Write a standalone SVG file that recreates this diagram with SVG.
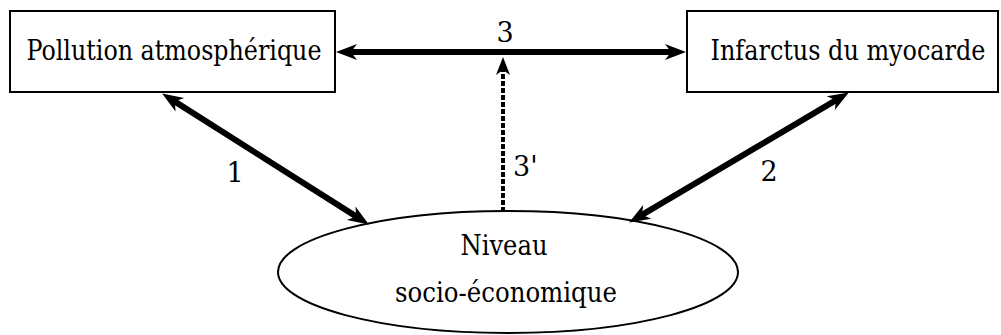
<svg xmlns="http://www.w3.org/2000/svg" width="1001" height="335" viewBox="0 0 1001 335">
<style>
.box{fill:#fff;stroke:#000;stroke-width:2}
.t{font-family:"DejaVu Serif Condensed", "DejaVu Serif", serif;font-stretch:condensed;font-size:27px;fill:#000;text-anchor:middle}
.lbl{font-family:"DejaVu Serif", serif;font-size:27px;fill:#000}
.arr{stroke:#000;stroke-width:6;fill:none}
.dash{stroke:#000;stroke-width:4;fill:none;stroke-dasharray:5 2}
</style>
<defs>
<marker id="ah" markerUnits="userSpaceOnUse" markerWidth="24" markerHeight="20" refX="10" refY="8" orient="auto-start-reverse" overflow="visible">
<path d="M0,0 L21,8 L0,16 L6,8 z" fill="#000"/>
</marker>
<marker id="ahs" markerUnits="userSpaceOnUse" markerWidth="20" markerHeight="16" refX="9" refY="7" orient="auto" overflow="visible">
<path d="M0,0 L18,7 L0,14 L5,7 z" fill="#000"/>
</marker>
</defs>
<g id="pollution">
<rect class="box" x="10" y="11" width="325" height="81"/>
<text class="t" x="174" y="60" textLength="295" lengthAdjust="spacingAndGlyphs">Pollution atmosphérique</text>
</g>
<g id="infarctus">
<rect class="box" x="687" y="11" width="311" height="81"/>
<text class="t" x="848" y="60" textLength="275" lengthAdjust="spacingAndGlyphs">Infarctus du myocarde</text>
</g>
<g id="niveau">
<ellipse class="box" cx="508" cy="272" rx="230" ry="61"/>
<text class="t" x="504" y="255" textLength="87" lengthAdjust="spacingAndGlyphs">Niveau</text>
<text class="t" x="506" y="302" textLength="222" lengthAdjust="spacingAndGlyphs">socio-économique</text>
</g>
<g id="connectors">
<line class="arr" x1="347" y1="52" x2="675" y2="52" marker-start="url(#ah)" marker-end="url(#ah)"/>
<line class="arr" x1="171.4" y1="99.4" x2="359.6" y2="218.6" marker-start="url(#ah)" marker-end="url(#ah)"/>
<line class="arr" x1="839.4" y1="98.1" x2="638.6" y2="216.9" marker-start="url(#ah)" marker-end="url(#ah)"/>
<line class="dash" x1="503" y1="212" x2="503" y2="66" marker-end="url(#ahs)"/>
<text class="lbl" x="505" y="42" text-anchor="middle">3</text>
<text class="lbl" x="513" y="176">3'</text>
<text class="lbl" x="235" y="182" text-anchor="middle">1</text>
<text class="lbl" x="769" y="181" text-anchor="middle">2</text>
</g>
</svg>
